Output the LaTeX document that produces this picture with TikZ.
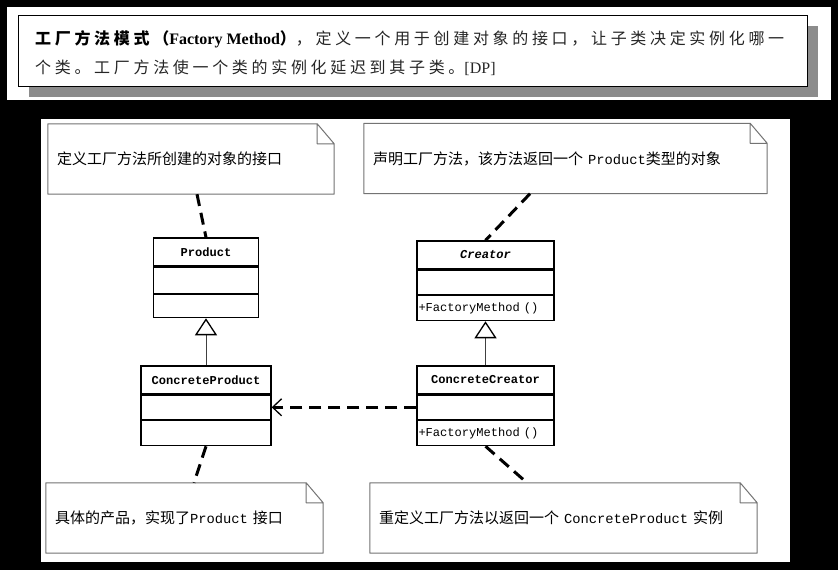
\documentclass[tikz,border=0pt]{standalone}
\usepackage{fontspec}
\setmainfont{Liberation Serif}
\newfontfamily\cjk{Noto Sans CJK SC}
\newfontfamily\cjkT{Noto Sans CJK SC}[LetterSpace=23]
\newfontfamily\mono{Liberation Mono}[Scale=0.85]
\newfontfamily\notemono{Liberation Mono}[Scale=0.92]
\usetikzlibrary{arrows.meta}
\usetikzlibrary{positioning}
\usetikzlibrary{shadows}
\tikzset{classbox/.style={draw=black, line width=1.3pt, fill=white, minimum width=#1, inner sep=0pt,
    font=\fontsize{14.2}{16}\selectfont\mono}}
\tikzset{notebox/.style={text width=#1, align=left, minimum height=70pt, inner xsep=9pt, inner ysep=0pt,
    font=\fontsize{15}{18}\selectfont\cjk}}
\tikzset{notelink/.style={line width=3pt, dash pattern=on 12pt off 7pt}}
\tikzset{inherit/.style={line width=1pt, draw=black!75, -{Triangle[open, length=17pt, width=22pt, line width'=1.3pt, color=black]}}}
\tikzset{depend/.style={line width=3pt, dash pattern=on 12pt off 7pt, -{Straight Barb[length=9pt, width=17pt, line width'=1.3pt]}}}

\begin{document}
\begin{tikzpicture}[x=1pt, y=-1pt]

                    \fill[black] (0,0) rectangle (838,570);
                    \fill[white] (7,7) rectangle (831,100);
                    \fill[white] (41,119) rectangle (790,562);

                    \node[draw=black, line width=1pt, fill=white, minimum width=789pt, minimum height=71pt,
                        general shadow={fill=black!45, shadow xshift=11pt, shadow yshift=-11pt}] (T) at (412.5,50.5) {};
                    \node[anchor=west, align=left, inner sep=0pt, text=black!85, font=\fontsize{16}{29}\selectfont] (Ttext) at (35,53.5)
                        {{\color{black}\bfseries\cjkT 工厂方法模式（}{\color{black}\bfseries Factory Method}{\color{black}\bfseries\cjkT ）}{\cjkT ，定义一个用于创建对象的接口，让子类决定实例化哪一}\\
                         {\cjkT 个类。工厂方法使一个类的实例化延迟到其子类。}[DP]};

                    \node[notebox=268pt] (N1) at (191,159) {定义工厂方法所创建的对象的接口};
                    \node[notebox=385pt] (N2) at (565.5,158.5) {声明工厂方法，该方法返回一个{\notemono\ Product}类型的对象};
                    \node[notebox=259pt] (N3) at (184.5,518) {具体的产品，实现了{\notemono Product }接口};
                    \node[notebox=369pt] (N4) at (563.5,518) {重定义工厂方法以返回一个{\notemono\ ConcreteProduct }实例};
                    \foreach \n in {N1,N2,N3,N4}
                        \draw[draw=black!55, line width=1pt, line join=round] (\n.south west) -- (\n.north west) -- ([xshift=-17pt]\n.north east)
                            -- ([yshift=-20pt]\n.north east) -- (\n.south east) -- cycle
                            ([xshift=-17pt]\n.north east) -- ([xshift=-17pt, yshift=-20pt]\n.north east) -- ([yshift=-20pt]\n.north east);

                    \node[classbox=105pt, minimum height=28pt, font=\fontsize{14.2}{16}\selectfont\mono\bfseries] (P) at (206,252) {Product};
                    \node[classbox=105pt, minimum height=26pt, below=0pt of P] (P1) {};
                    \node[classbox=105pt, minimum height=23pt, below=0pt of P1] (P2) {};

                    \node[classbox=137pt, minimum height=28pt, font=\fontsize{14.2}{16}\selectfont\mono\bfseries\itshape] (C) at (485.5,255) {Creator};
                    \node[classbox=137pt, minimum height=24pt, below=0pt of C] (C1) {};
                    \node[classbox=137pt, minimum height=25pt, below=0pt of C1, text width=134pt, align=left, inner xsep=1.5pt] (C2) {+FactoryMethod ()};

                    \node[classbox=130pt, minimum height=28pt, font=\fontsize{14.2}{16}\selectfont\mono\bfseries] (CP) at (206,380) {ConcreteProduct};
                    \node[classbox=130pt, minimum height=24pt, below=0pt of CP] (CP1) {};
                    \node[classbox=130pt, minimum height=25pt, below=0pt of CP1] (CP2) {};

                    \node[classbox=137pt, minimum height=28pt, font=\fontsize{14.2}{16}\selectfont\mono\bfseries] (CC) at (485.5,380) {ConcreteCreator};
                    \node[classbox=137pt, minimum height=24pt, below=0pt of CC] (CC1) {};
                    \node[classbox=137pt, minimum height=25pt, below=0pt of CC1, text width=134pt, align=left, inner xsep=1.5pt] (CC2) {+FactoryMethod ()};

                    \draw[notelink] ([xshift=6pt]N1.south) -- (P.north);
                    \draw[notelink] ([xshift=-35.5pt]N2.south) -- (C.north);
                    \draw[notelink] (CP2.south) -- ([xshift=9.5pt]N3.north);
                    \draw[notelink] (CC2.south) -- ([xshift=-36.5pt]N4.north);
                    \draw[inherit] (CP.north) -- (P2.south);
                    \draw[inherit] (CC.north) -- (C2.south);
                    \draw[depend] (CC1.west) -- (CP1.east);

\end{tikzpicture}
\end{document}
